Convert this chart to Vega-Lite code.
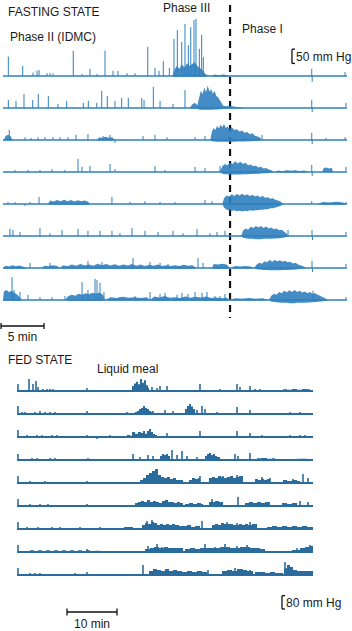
{
"$schema":"https://vega.github.io/schema/vega-lite/v6.json",
"padding":0,
"background":"white",
"spacing":1,
"config":{"view":{"stroke":null},"font":"Liberation Sans"},
"datasets":{
"fast":[
{"k":"inv","r":1,"t":0,"t2":1,"p":266,"p2":266},
{"k":"inv","r":8,"t":0,"t2":1,"p":-175,"p2":-175},
{"k":"base","r":1,"t":0,"t2":40},{"k":"base","r":2,"t":0,"t2":40},{"k":"base","r":3,"t":0,"t2":40},{"k":"base","r":4,"t":0,"t2":40},{"k":"base","r":5,"t":0,"t2":40},{"k":"base","r":6,"t":0,"t2":40},{"k":"base","r":7,"t":0,"t2":40},{"k":"base","r":8,"t":0,"t2":40},
{"k":"txt","r":1,"t":0.58,"p":224,"label":"FASTING STATE"},
{"k":"txt","r":1,"t":0.81,"p":136.5,"label":"Phase II (IDMC)"},
{"k":"txt","r":1,"t":18.6,"p":238,"label":"Phase III"},
{"k":"txt","r":1,"t":27.8,"p":164.5,"label":"Phase I"},
{"k":"txt","r":1,"t":34.07,"p":66.5,"label":"50 mm Hg"},
{"k":"txtc","r":8,"t":2.27,"p":-131,"label":"5 min"},
{"k":"bar","r":1,"t":33.6,"t2":33.6,"p":44,"p2":94},
{"k":"bar","r":1,"t":33.6,"t2":33.95,"p":94,"p2":94},
{"k":"bar","r":1,"t":33.6,"t2":33.95,"p":44,"p2":44},
{"k":"bar","r":8,"t":-0.23,"t2":4.77,"p":-91,"p2":-91},
{"k":"bar","r":8,"t":-0.23,"t2":-0.23,"p":-80.5,"p2":-101.5},
{"k":"bar","r":8,"t":4.77,"t2":4.77,"p":-80.5,"p2":-101.5},
{"k":"dash","r":1,"t":26.4,"p":248.5,"p2":-847},
{"k":"s","r":1,"t":0.62,"p":68},{"k":"s","r":1,"t":2.29,"p":35},{"k":"s","r":1,"t":3.49,"p":12},{"k":"s","r":1,"t":3.95,"p":18},{"k":"s","r":1,"t":4.19,"p":21},{"k":"s","r":1,"t":5.12,"p":10},{"k":"s","r":1,"t":5.47,"p":10},{"k":"s","r":1,"t":5.81,"p":9},{"k":"s","r":1,"t":8.17,"p":88},{"k":"s","r":1,"t":9.19,"p":7},{"k":"s","r":1,"t":10.12,"p":25},{"k":"s","r":1,"t":10.93,"p":7},{"k":"s","r":1,"t":11.86,"p":88},{"k":"s","r":1,"t":12.79,"p":18},{"k":"s","r":1,"t":13.37,"p":18},{"k":"s","r":1,"t":14.42,"p":10},{"k":"s","r":1,"t":15.35,"p":10},{"k":"s","r":1,"t":16.83,"p":102},{"k":"s","r":1,"t":17.67,"p":28},{"k":"s","r":1,"t":18.14,"p":18},{"k":"s","r":1,"t":18.64,"p":52},{"k":"s","r":1,"t":19.34,"p":28},{"k":"s","r":1,"t":19.88,"p":130},{"k":"s","r":1,"t":20.27,"p":161},{"k":"s","r":1,"t":20.78,"p":119},{"k":"s","r":1,"t":21.16,"p":182},{"k":"s","r":1,"t":21.55,"p":108},{"k":"s","r":1,"t":21.83,"p":171},{"k":"s","r":1,"t":22.21,"p":196},{"k":"s","r":1,"t":22.44,"p":200},{"k":"s","r":1,"t":22.83,"p":95},{"k":"s","r":1,"t":23.1,"p":144},{"k":"s","r":1,"t":23.29,"p":66},{"k":"s","r":1,"t":35.9,"p":25},{"k":"s","r":1,"t":35.95,"p":-20},{"k":"s","r":1,"t":39.77,"p":14},
{"k":"s","r":2,"t":0.62,"p":28},{"k":"s","r":2,"t":1.51,"p":25},{"k":"s","r":2,"t":2.44,"p":49},{"k":"s","r":2,"t":3.45,"p":28},{"k":"s","r":2,"t":4.1,"p":49},{"k":"s","r":2,"t":5.27,"p":42},{"k":"s","r":2,"t":6.4,"p":14},{"k":"s","r":2,"t":7.41,"p":25},{"k":"s","r":2,"t":9.34,"p":18},{"k":"s","r":2,"t":9.92,"p":25},{"k":"s","r":2,"t":10.9,"p":18},{"k":"s","r":2,"t":11.48,"p":60},{"k":"s","r":2,"t":12.13,"p":42},{"k":"s","r":2,"t":13.02,"p":25},{"k":"s","r":2,"t":13.8,"p":35},{"k":"s","r":2,"t":14.57,"p":35},{"k":"s","r":2,"t":16.13,"p":35},{"k":"s","r":2,"t":16.4,"p":28},{"k":"s","r":2,"t":17.48,"p":74},{"k":"s","r":2,"t":18.26,"p":25},{"k":"s","r":2,"t":19.77,"p":14},{"k":"s","r":2,"t":21.16,"p":63},{"k":"s","r":2,"t":35.9,"p":28},{"k":"s","r":2,"t":35.95,"p":-14},{"k":"s","r":2,"t":39.88,"p":18},
{"k":"s","r":3,"t":0.73,"p":35},{"k":"s","r":3,"t":2.56,"p":10},{"k":"s","r":3,"t":3.26,"p":7},{"k":"s","r":3,"t":4.07,"p":10},{"k":"s","r":3,"t":4.88,"p":10},{"k":"s","r":3,"t":5.81,"p":10},{"k":"s","r":3,"t":6.63,"p":10},{"k":"s","r":3,"t":7.56,"p":10},{"k":"s","r":3,"t":8.49,"p":18},{"k":"s","r":3,"t":9.88,"p":21},{"k":"s","r":3,"t":11.63,"p":14},{"k":"s","r":3,"t":12.44,"p":18},{"k":"s","r":3,"t":13.02,"p":-10},{"k":"s","r":3,"t":16.28,"p":14},{"k":"s","r":3,"t":17.67,"p":18},{"k":"s","r":3,"t":19.07,"p":10},{"k":"s","r":3,"t":22.33,"p":10},{"k":"s","r":3,"t":23.49,"p":14},{"k":"s","r":3,"t":30.12,"p":18},{"k":"s","r":3,"t":35.9,"p":25},{"k":"s","r":3,"t":35.95,"p":-14},{"k":"s","r":3,"t":37.56,"p":7},{"k":"s","r":3,"t":39.77,"p":10},
{"k":"s","r":4,"t":1.4,"p":7},{"k":"s","r":4,"t":2.9,"p":7},{"k":"s","r":4,"t":4.3,"p":7},{"k":"s","r":4,"t":5.7,"p":10},{"k":"s","r":4,"t":7.2,"p":7},{"k":"s","r":4,"t":8.72,"p":46},{"k":"s","r":4,"t":9.19,"p":18},{"k":"s","r":4,"t":10.12,"p":21},{"k":"s","r":4,"t":12.44,"p":28},{"k":"s","r":4,"t":13.02,"p":10},{"k":"s","r":4,"t":17.67,"p":21},{"k":"s","r":4,"t":18.84,"p":7},{"k":"s","r":4,"t":22.33,"p":18},{"k":"s","r":4,"t":23.49,"p":14},{"k":"s","r":4,"t":25.23,"p":21},{"k":"s","r":4,"t":35.9,"p":25},{"k":"s","r":4,"t":35.95,"p":-14},{"k":"s","r":4,"t":39.88,"p":18},
{"k":"s","r":5,"t":0.58,"p":7},{"k":"s","r":5,"t":1.4,"p":7},{"k":"s","r":5,"t":2.56,"p":-7},{"k":"s","r":5,"t":3.14,"p":7},{"k":"s","r":5,"t":4.19,"p":25},{"k":"s","r":5,"t":12.67,"p":25},{"k":"s","r":5,"t":14.77,"p":7},{"k":"s","r":5,"t":16.5,"p":10},{"k":"s","r":5,"t":18.26,"p":7},{"k":"s","r":5,"t":20.0,"p":7},{"k":"s","r":5,"t":23.49,"p":14},{"k":"s","r":5,"t":24.3,"p":10},{"k":"s","r":5,"t":35.9,"p":10},{"k":"s","r":5,"t":39.88,"p":7},
{"k":"s","r":6,"t":0.81,"p":25},{"k":"s","r":6,"t":1.16,"p":21},{"k":"s","r":6,"t":1.98,"p":14},{"k":"s","r":6,"t":4.3,"p":28},{"k":"s","r":6,"t":5.47,"p":10},{"k":"s","r":6,"t":6.86,"p":21},{"k":"s","r":6,"t":8.72,"p":25},{"k":"s","r":6,"t":9.88,"p":18},{"k":"s","r":6,"t":11.28,"p":18},{"k":"s","r":6,"t":12.67,"p":18},{"k":"s","r":6,"t":13.6,"p":10},{"k":"s","r":6,"t":15.0,"p":28},{"k":"s","r":6,"t":16.51,"p":18},{"k":"s","r":6,"t":18.02,"p":14},{"k":"s","r":6,"t":19.77,"p":18},{"k":"s","r":6,"t":20.93,"p":10},{"k":"s","r":6,"t":22.56,"p":25},{"k":"s","r":6,"t":24.07,"p":10},{"k":"s","r":6,"t":24.88,"p":14},{"k":"s","r":6,"t":25.81,"p":18},{"k":"s","r":6,"t":33.14,"p":21},{"k":"s","r":6,"t":35.93,"p":21},{"k":"s","r":6,"t":35.98,"p":-14},{"k":"s","r":6,"t":39.88,"p":14},
{"k":"s","r":7,"t":3.14,"p":18},{"k":"s","r":7,"t":5.47,"p":18},{"k":"s","r":7,"t":9.88,"p":25},{"k":"s","r":7,"t":11.51,"p":21},{"k":"s","r":7,"t":15.12,"p":35},{"k":"s","r":7,"t":17.09,"p":21},{"k":"s","r":7,"t":18.26,"p":18},{"k":"s","r":7,"t":19.19,"p":14},{"k":"s","r":7,"t":22.67,"p":35},{"k":"s","r":7,"t":23.26,"p":18},{"k":"s","r":7,"t":35.93,"p":25},{"k":"s","r":7,"t":35.98,"p":-14},{"k":"s","r":7,"t":39.88,"p":14},
{"k":"s","r":8,"t":1.05,"p":80},{"k":"s","r":8,"t":1.28,"p":35},{"k":"s","r":8,"t":1.98,"p":28},{"k":"s","r":8,"t":2.91,"p":18},{"k":"s","r":8,"t":4.3,"p":10},{"k":"s","r":8,"t":5.7,"p":10},{"k":"s","r":8,"t":7.21,"p":14},{"k":"s","r":8,"t":9.19,"p":63},{"k":"s","r":8,"t":9.88,"p":35},{"k":"s","r":8,"t":10.7,"p":74},{"k":"s","r":8,"t":10.93,"p":70},{"k":"s","r":8,"t":11.28,"p":60},{"k":"s","r":8,"t":11.74,"p":28},{"k":"s","r":8,"t":13.6,"p":10},{"k":"s","r":8,"t":15.35,"p":14},{"k":"s","r":8,"t":17.09,"p":28},{"k":"s","r":8,"t":18.26,"p":21},{"k":"s","r":8,"t":18.84,"p":25},{"k":"s","r":8,"t":20.23,"p":18},{"k":"s","r":8,"t":20.81,"p":25},{"k":"s","r":8,"t":21.51,"p":21},{"k":"s","r":8,"t":22.33,"p":28},{"k":"s","r":8,"t":23.14,"p":25},{"k":"s","r":8,"t":23.72,"p":28},{"k":"s","r":8,"t":24.65,"p":14},{"k":"s","r":8,"t":25.23,"p":14},{"k":"s","r":8,"t":25.81,"p":21},{"k":"s","r":8,"t":36.05,"p":32},{"k":"s","r":8,"t":39.88,"p":10},
{"k":"a","r":1,"b":1,"t":19.7,"p":0,"lo":0},{"k":"a","r":1,"b":1,"t":19.9,"p":20,"lo":-3},{"k":"a","r":1,"b":1,"t":20.2,"p":35,"lo":-3},{"k":"a","r":1,"b":1,"t":20.5,"p":25,"lo":-3},{"k":"a","r":1,"b":1,"t":20.8,"p":40,"lo":-3},{"k":"a","r":1,"b":1,"t":21.1,"p":30,"lo":-3},{"k":"a","r":1,"b":1,"t":21.4,"p":45,"lo":-3},{"k":"a","r":1,"b":1,"t":21.7,"p":35,"lo":-3},{"k":"a","r":1,"b":1,"t":22.0,"p":42,"lo":-3},{"k":"a","r":1,"b":1,"t":22.3,"p":48,"lo":-3},{"k":"a","r":1,"b":1,"t":22.6,"p":35,"lo":-3},{"k":"a","r":1,"b":1,"t":22.9,"p":28,"lo":-3},{"k":"a","r":1,"b":1,"t":23.2,"p":20,"lo":-3},{"k":"a","r":1,"b":1,"t":23.5,"p":8,"lo":-3},{"k":"a","r":1,"b":1,"t":23.8,"p":2,"lo":0},{"k":"a","r":1,"b":1,"t":24.2,"p":0,"lo":0},
{"k":"a","r":1,"b":2,"t":24.2,"p":0,"lo":0},{"k":"a","r":1,"b":2,"t":24.6,"p":5,"lo":-3},{"k":"a","r":1,"b":2,"t":25.1,"p":3,"lo":-2},{"k":"a","r":1,"b":2,"t":25.6,"p":5,"lo":-3},{"k":"a","r":1,"b":2,"t":26.1,"p":3,"lo":-2},{"k":"a","r":1,"b":2,"t":26.6,"p":0,"lo":0},
{"k":"a","r":2,"b":1,"t":21.7,"p":0,"lo":0},{"k":"a","r":2,"b":1,"t":22.0,"p":12,"lo":-2},{"k":"a","r":2,"b":1,"t":22.3,"p":18,"lo":-2},{"k":"a","r":2,"b":1,"t":22.6,"p":10,"lo":-3},{"k":"a","r":2,"b":1,"t":22.8,"p":35,"lo":-5},{"k":"a","r":2,"b":1,"t":23.0,"p":60,"lo":-6},{"k":"a","r":2,"b":1,"t":23.2,"p":48,"lo":-6},{"k":"a","r":2,"b":1,"t":23.4,"p":72,"lo":-6},{"k":"a","r":2,"b":1,"t":23.6,"p":55,"lo":-6},{"k":"a","r":2,"b":1,"t":23.8,"p":78,"lo":-6},{"k":"a","r":2,"b":1,"t":24.0,"p":58,"lo":-6},{"k":"a","r":2,"b":1,"t":24.2,"p":66,"lo":-6},{"k":"a","r":2,"b":1,"t":24.4,"p":50,"lo":-6},{"k":"a","r":2,"b":1,"t":24.6,"p":60,"lo":-5},{"k":"a","r":2,"b":1,"t":24.8,"p":42,"lo":-5},{"k":"a","r":2,"b":1,"t":25.0,"p":38,"lo":-5},{"k":"a","r":2,"b":1,"t":25.2,"p":28,"lo":-4},{"k":"a","r":2,"b":1,"t":25.4,"p":18,"lo":-4},{"k":"a","r":2,"b":1,"t":25.6,"p":8,"lo":-3},{"k":"a","r":2,"b":1,"t":26.0,"p":6,"lo":-3},{"k":"a","r":2,"b":1,"t":26.5,"p":7,"lo":-2},{"k":"a","r":2,"b":1,"t":27.0,"p":4,"lo":-2},{"k":"a","r":2,"b":1,"t":27.5,"p":3,"lo":-2},{"k":"a","r":2,"b":1,"t":28.0,"p":0,"lo":0},
{"k":"a","r":3,"b":1,"t":0.1,"p":0,"lo":0},{"k":"a","r":3,"b":1,"t":0.3,"p":14,"lo":-2},{"k":"a","r":3,"b":1,"t":0.6,"p":18,"lo":-2},{"k":"a","r":3,"b":1,"t":0.9,"p":12,"lo":-2},{"k":"a","r":3,"b":1,"t":1.1,"p":0,"lo":0},
{"k":"a","r":3,"b":2,"t":10.9,"p":0,"lo":0},{"k":"a","r":3,"b":2,"t":11.2,"p":10,"lo":-2},{"k":"a","r":3,"b":2,"t":11.5,"p":7,"lo":-2},{"k":"a","r":3,"b":2,"t":11.9,"p":11,"lo":-2},{"k":"a","r":3,"b":2,"t":12.3,"p":8,"lo":-2},{"k":"a","r":3,"b":2,"t":12.7,"p":10,"lo":-2},{"k":"a","r":3,"b":2,"t":13.0,"p":0,"lo":0},
{"k":"a","r":3,"b":3,"t":24.1,"p":0,"lo":0},{"k":"a","r":3,"b":3,"t":24.3,"p":30,"lo":-4},{"k":"a","r":3,"b":3,"t":24.5,"p":42,"lo":-5},{"k":"a","r":3,"b":3,"t":24.7,"p":35,"lo":-5},{"k":"a","r":3,"b":3,"t":24.9,"p":50,"lo":-6},{"k":"a","r":3,"b":3,"t":25.1,"p":40,"lo":-6},{"k":"a","r":3,"b":3,"t":25.3,"p":53,"lo":-6},{"k":"a","r":3,"b":3,"t":25.5,"p":45,"lo":-6},{"k":"a","r":3,"b":3,"t":25.7,"p":56,"lo":-6},{"k":"a","r":3,"b":3,"t":25.9,"p":42,"lo":-6},{"k":"a","r":3,"b":3,"t":26.1,"p":48,"lo":-6},{"k":"a","r":3,"b":3,"t":26.3,"p":38,"lo":-6},{"k":"a","r":3,"b":3,"t":26.6,"p":45,"lo":-6},{"k":"a","r":3,"b":3,"t":26.9,"p":35,"lo":-6},{"k":"a","r":3,"b":3,"t":27.2,"p":38,"lo":-5},{"k":"a","r":3,"b":3,"t":27.5,"p":30,"lo":-5},{"k":"a","r":3,"b":3,"t":27.8,"p":33,"lo":-5},{"k":"a","r":3,"b":3,"t":28.1,"p":25,"lo":-5},{"k":"a","r":3,"b":3,"t":28.4,"p":28,"lo":-4},{"k":"a","r":3,"b":3,"t":28.7,"p":20,"lo":-4},{"k":"a","r":3,"b":3,"t":29.0,"p":24,"lo":-4},{"k":"a","r":3,"b":3,"t":29.3,"p":15,"lo":-3},{"k":"a","r":3,"b":3,"t":29.6,"p":12,"lo":-3},{"k":"a","r":3,"b":3,"t":29.9,"p":8,"lo":-2},{"k":"a","r":3,"b":3,"t":30.1,"p":0,"lo":0},
{"k":"a","r":4,"b":1,"t":25.2,"p":0,"lo":0},{"k":"a","r":4,"b":1,"t":25.5,"p":20,"lo":-6},{"k":"a","r":4,"b":1,"t":25.8,"p":28,"lo":-8},{"k":"a","r":4,"b":1,"t":26.1,"p":24,"lo":-8},{"k":"a","r":4,"b":1,"t":26.4,"p":32,"lo":-9},{"k":"a","r":4,"b":1,"t":26.7,"p":28,"lo":-9},{"k":"a","r":4,"b":1,"t":27.0,"p":38,"lo":-9},{"k":"a","r":4,"b":1,"t":27.3,"p":30,"lo":-9},{"k":"a","r":4,"b":1,"t":27.6,"p":36,"lo":-9},{"k":"a","r":4,"b":1,"t":27.9,"p":28,"lo":-8},{"k":"a","r":4,"b":1,"t":28.2,"p":32,"lo":-8},{"k":"a","r":4,"b":1,"t":28.5,"p":24,"lo":-8},{"k":"a","r":4,"b":1,"t":28.8,"p":26,"lo":-7},{"k":"a","r":4,"b":1,"t":29.1,"p":20,"lo":-7},{"k":"a","r":4,"b":1,"t":29.4,"p":22,"lo":-6},{"k":"a","r":4,"b":1,"t":29.7,"p":16,"lo":-6},{"k":"a","r":4,"b":1,"t":30.0,"p":18,"lo":-5},{"k":"a","r":4,"b":1,"t":30.3,"p":12,"lo":-4},{"k":"a","r":4,"b":1,"t":30.6,"p":14,"lo":-4},{"k":"a","r":4,"b":1,"t":30.9,"p":9,"lo":-3},{"k":"a","r":4,"b":1,"t":31.2,"p":6,"lo":-2},{"k":"a","r":4,"b":1,"t":31.5,"p":0,"lo":0},
{"k":"a","r":4,"b":2,"t":31.6,"p":0,"lo":0},{"k":"a","r":4,"b":2,"t":32.0,"p":5,"lo":-2},{"k":"a","r":4,"b":2,"t":32.5,"p":3,"lo":-2},{"k":"a","r":4,"b":2,"t":33.0,"p":6,"lo":-2},{"k":"a","r":4,"b":2,"t":33.5,"p":4,"lo":-2},{"k":"a","r":4,"b":2,"t":34.0,"p":6,"lo":-2},{"k":"a","r":4,"b":2,"t":34.5,"p":3,"lo":-2},{"k":"a","r":4,"b":2,"t":35.0,"p":5,"lo":-2},{"k":"a","r":4,"b":2,"t":35.5,"p":0,"lo":0},
{"k":"a","r":4,"b":3,"t":37.1,"p":0,"lo":0},{"k":"a","r":4,"b":3,"t":37.3,"p":14,"lo":-1},{"k":"a","r":4,"b":3,"t":37.6,"p":16,"lo":-1},{"k":"a","r":4,"b":3,"t":37.9,"p":12,"lo":-1},{"k":"a","r":4,"b":3,"t":38.2,"p":15,"lo":-1},{"k":"a","r":4,"b":3,"t":38.4,"p":0,"lo":0},
{"k":"a","r":5,"b":1,"t":5.2,"p":0,"lo":0},{"k":"a","r":5,"b":1,"t":5.5,"p":12,"lo":-3},{"k":"a","r":5,"b":1,"t":5.9,"p":9,"lo":-3},{"k":"a","r":5,"b":1,"t":6.3,"p":14,"lo":-3},{"k":"a","r":5,"b":1,"t":6.7,"p":10,"lo":-3},{"k":"a","r":5,"b":1,"t":7.1,"p":15,"lo":-3},{"k":"a","r":5,"b":1,"t":7.5,"p":10,"lo":-3},{"k":"a","r":5,"b":1,"t":7.9,"p":14,"lo":-3},{"k":"a","r":5,"b":1,"t":8.3,"p":9,"lo":-3},{"k":"a","r":5,"b":1,"t":8.7,"p":13,"lo":-3},{"k":"a","r":5,"b":1,"t":9.1,"p":10,"lo":-3},{"k":"a","r":5,"b":1,"t":9.5,"p":12,"lo":-3},{"k":"a","r":5,"b":1,"t":9.9,"p":8,"lo":-3},{"k":"a","r":5,"b":1,"t":10.1,"p":0,"lo":0},
{"k":"a","r":5,"b":2,"t":25.5,"p":0,"lo":0},{"k":"a","r":5,"b":2,"t":25.7,"p":20,"lo":-12},{"k":"a","r":5,"b":2,"t":26.0,"p":30,"lo":-20},{"k":"a","r":5,"b":2,"t":26.3,"p":26,"lo":-22},{"k":"a","r":5,"b":2,"t":26.6,"p":34,"lo":-24},{"k":"a","r":5,"b":2,"t":26.9,"p":28,"lo":-22},{"k":"a","r":5,"b":2,"t":27.2,"p":35,"lo":-25},{"k":"a","r":5,"b":2,"t":27.5,"p":30,"lo":-24},{"k":"a","r":5,"b":2,"t":27.8,"p":36,"lo":-26},{"k":"a","r":5,"b":2,"t":28.1,"p":30,"lo":-24},{"k":"a","r":5,"b":2,"t":28.4,"p":34,"lo":-25},{"k":"a","r":5,"b":2,"t":28.7,"p":28,"lo":-22},{"k":"a","r":5,"b":2,"t":29.0,"p":32,"lo":-24},{"k":"a","r":5,"b":2,"t":29.3,"p":26,"lo":-22},{"k":"a","r":5,"b":2,"t":29.6,"p":30,"lo":-22},{"k":"a","r":5,"b":2,"t":29.9,"p":24,"lo":-20},{"k":"a","r":5,"b":2,"t":30.2,"p":28,"lo":-20},{"k":"a","r":5,"b":2,"t":30.5,"p":22,"lo":-18},{"k":"a","r":5,"b":2,"t":30.8,"p":24,"lo":-18},{"k":"a","r":5,"b":2,"t":31.1,"p":18,"lo":-15},{"k":"a","r":5,"b":2,"t":31.4,"p":20,"lo":-15},{"k":"a","r":5,"b":2,"t":31.7,"p":14,"lo":-12},{"k":"a","r":5,"b":2,"t":32.0,"p":12,"lo":-10},{"k":"a","r":5,"b":2,"t":32.3,"p":8,"lo":-6},{"k":"a","r":5,"b":2,"t":32.6,"p":0,"lo":0},
{"k":"a","r":5,"b":3,"t":36.6,"p":0,"lo":0},{"k":"a","r":5,"b":3,"t":37.2,"p":7,"lo":-3},{"k":"a","r":5,"b":3,"t":38.0,"p":5,"lo":-3},{"k":"a","r":5,"b":3,"t":38.8,"p":8,"lo":-3},{"k":"a","r":5,"b":3,"t":39.5,"p":5,"lo":-3},{"k":"a","r":5,"b":3,"t":40.0,"p":0,"lo":0},
{"k":"a","r":6,"b":1,"t":27.7,"p":0,"lo":0},{"k":"a","r":6,"b":1,"t":27.9,"p":18,"lo":-6},{"k":"a","r":6,"b":1,"t":28.2,"p":26,"lo":-8},{"k":"a","r":6,"b":1,"t":28.5,"p":22,"lo":-10},{"k":"a","r":6,"b":1,"t":28.8,"p":32,"lo":-10},{"k":"a","r":6,"b":1,"t":29.1,"p":28,"lo":-10},{"k":"a","r":6,"b":1,"t":29.4,"p":35,"lo":-11},{"k":"a","r":6,"b":1,"t":29.7,"p":30,"lo":-11},{"k":"a","r":6,"b":1,"t":30.0,"p":35,"lo":-11},{"k":"a","r":6,"b":1,"t":30.3,"p":28,"lo":-10},{"k":"a","r":6,"b":1,"t":30.6,"p":33,"lo":-10},{"k":"a","r":6,"b":1,"t":30.9,"p":26,"lo":-10},{"k":"a","r":6,"b":1,"t":31.2,"p":30,"lo":-10},{"k":"a","r":6,"b":1,"t":31.5,"p":24,"lo":-9},{"k":"a","r":6,"b":1,"t":31.8,"p":26,"lo":-9},{"k":"a","r":6,"b":1,"t":32.1,"p":20,"lo":-8},{"k":"a","r":6,"b":1,"t":32.4,"p":22,"lo":-7},{"k":"a","r":6,"b":1,"t":32.7,"p":15,"lo":-5},{"k":"a","r":6,"b":1,"t":33.0,"p":8,"lo":-3},{"k":"a","r":6,"b":1,"t":33.2,"p":0,"lo":0},
{"k":"a","r":7,"b":1,"t":0,"p":0,"lo":0},{"k":"a","r":7,"b":1,"t":0.3,"p":8,"lo":-3},{"k":"a","r":7,"b":1,"t":0.7,"p":5,"lo":-3},{"k":"a","r":7,"b":1,"t":1.1,"p":10,"lo":-3},{"k":"a","r":7,"b":1,"t":1.5,"p":6,"lo":-3},{"k":"a","r":7,"b":1,"t":1.9,"p":9,"lo":-3},{"k":"a","r":7,"b":1,"t":2.3,"p":5,"lo":-3},{"k":"a","r":7,"b":1,"t":2.8,"p":0,"lo":0},
{"k":"a","r":7,"b":2,"t":4.5,"p":0,"lo":0},{"k":"a","r":7,"b":2,"t":4.8,"p":8,"lo":-2},{"k":"a","r":7,"b":2,"t":5.3,"p":6,"lo":-2},{"k":"a","r":7,"b":2,"t":5.8,"p":10,"lo":-2},{"k":"a","r":7,"b":2,"t":6.3,"p":7,"lo":-2},{"k":"a","r":7,"b":2,"t":6.6,"p":0,"lo":0},
{"k":"a","r":7,"b":3,"t":6.6,"p":0,"lo":0},{"k":"a","r":7,"b":3,"t":7.0,"p":10,"lo":-3},{"k":"a","r":7,"b":3,"t":7.5,"p":6,"lo":-3},{"k":"a","r":7,"b":3,"t":8.0,"p":12,"lo":-3},{"k":"a","r":7,"b":3,"t":8.5,"p":8,"lo":-3},{"k":"a","r":7,"b":3,"t":9.0,"p":14,"lo":-3},{"k":"a","r":7,"b":3,"t":9.5,"p":9,"lo":-3},{"k":"a","r":7,"b":3,"t":10.0,"p":12,"lo":-3},{"k":"a","r":7,"b":3,"t":10.5,"p":8,"lo":-3},{"k":"a","r":7,"b":3,"t":11.0,"p":15,"lo":-3},{"k":"a","r":7,"b":3,"t":11.5,"p":10,"lo":-3},{"k":"a","r":7,"b":3,"t":12.0,"p":14,"lo":-3},{"k":"a","r":7,"b":3,"t":12.5,"p":9,"lo":-3},{"k":"a","r":7,"b":3,"t":13.0,"p":13,"lo":-3},{"k":"a","r":7,"b":3,"t":13.5,"p":8,"lo":-3},{"k":"a","r":7,"b":3,"t":14.0,"p":12,"lo":-3},{"k":"a","r":7,"b":3,"t":14.5,"p":9,"lo":-3},{"k":"a","r":7,"b":3,"t":15.0,"p":14,"lo":-3},{"k":"a","r":7,"b":3,"t":15.5,"p":8,"lo":-3},{"k":"a","r":7,"b":3,"t":16.0,"p":12,"lo":-3},{"k":"a","r":7,"b":3,"t":16.5,"p":7,"lo":-3},{"k":"a","r":7,"b":3,"t":17.0,"p":11,"lo":-3},{"k":"a","r":7,"b":3,"t":17.5,"p":8,"lo":-3},{"k":"a","r":7,"b":3,"t":18.0,"p":12,"lo":-3},{"k":"a","r":7,"b":3,"t":18.5,"p":7,"lo":-3},{"k":"a","r":7,"b":3,"t":19.0,"p":10,"lo":-3},{"k":"a","r":7,"b":3,"t":19.5,"p":7,"lo":-3},{"k":"a","r":7,"b":3,"t":20.0,"p":10,"lo":-3},{"k":"a","r":7,"b":3,"t":20.5,"p":7,"lo":-3},{"k":"a","r":7,"b":3,"t":21.0,"p":11,"lo":-3},{"k":"a","r":7,"b":3,"t":21.5,"p":8,"lo":-3},{"k":"a","r":7,"b":3,"t":22.0,"p":10,"lo":-3},{"k":"a","r":7,"b":3,"t":22.5,"p":0,"lo":0},
{"k":"a","r":7,"b":4,"t":24.3,"p":0,"lo":0},{"k":"a","r":7,"b":4,"t":24.5,"p":14,"lo":-3},{"k":"a","r":7,"b":4,"t":25.0,"p":12,"lo":-3},{"k":"a","r":7,"b":4,"t":25.5,"p":15,"lo":-3},{"k":"a","r":7,"b":4,"t":26.0,"p":12,"lo":-3},{"k":"a","r":7,"b":4,"t":26.4,"p":0,"lo":0},
{"k":"a","r":7,"b":5,"t":26.4,"p":0,"lo":0},{"k":"a","r":7,"b":5,"t":27.0,"p":7,"lo":-2},{"k":"a","r":7,"b":5,"t":27.6,"p":5,"lo":-2},{"k":"a","r":7,"b":5,"t":28.2,"p":7,"lo":-2},{"k":"a","r":7,"b":5,"t":28.8,"p":5,"lo":-2},{"k":"a","r":7,"b":5,"t":29.1,"p":0,"lo":0},
{"k":"a","r":7,"b":6,"t":29.2,"p":0,"lo":0},{"k":"a","r":7,"b":6,"t":29.5,"p":12,"lo":-4},{"k":"a","r":7,"b":6,"t":29.8,"p":18,"lo":-5},{"k":"a","r":7,"b":6,"t":30.1,"p":15,"lo":-6},{"k":"a","r":7,"b":6,"t":30.4,"p":24,"lo":-7},{"k":"a","r":7,"b":6,"t":30.7,"p":20,"lo":-7},{"k":"a","r":7,"b":6,"t":31.0,"p":28,"lo":-8},{"k":"a","r":7,"b":6,"t":31.3,"p":22,"lo":-8},{"k":"a","r":7,"b":6,"t":31.6,"p":28,"lo":-8},{"k":"a","r":7,"b":6,"t":31.9,"p":24,"lo":-8},{"k":"a","r":7,"b":6,"t":32.2,"p":27,"lo":-8},{"k":"a","r":7,"b":6,"t":32.5,"p":22,"lo":-7},{"k":"a","r":7,"b":6,"t":32.8,"p":25,"lo":-7},{"k":"a","r":7,"b":6,"t":33.1,"p":20,"lo":-7},{"k":"a","r":7,"b":6,"t":33.4,"p":22,"lo":-6},{"k":"a","r":7,"b":6,"t":33.7,"p":16,"lo":-6},{"k":"a","r":7,"b":6,"t":34.0,"p":18,"lo":-5},{"k":"a","r":7,"b":6,"t":34.3,"p":12,"lo":-4},{"k":"a","r":7,"b":6,"t":34.6,"p":10,"lo":-3},{"k":"a","r":7,"b":6,"t":34.9,"p":6,"lo":-2},{"k":"a","r":7,"b":6,"t":35.3,"p":0,"lo":0},
{"k":"a","r":8,"b":1,"t":0,"p":0,"lo":0},{"k":"a","r":8,"b":1,"t":0.1,"p":30,"lo":-3},{"k":"a","r":8,"b":1,"t":0.4,"p":35,"lo":-3},{"k":"a","r":8,"b":1,"t":0.7,"p":28,"lo":-3},{"k":"a","r":8,"b":1,"t":1.0,"p":32,"lo":-3},{"k":"a","r":8,"b":1,"t":1.3,"p":25,"lo":-3},{"k":"a","r":8,"b":1,"t":1.6,"p":20,"lo":-3},{"k":"a","r":8,"b":1,"t":2.0,"p":8,"lo":-3},{"k":"a","r":8,"b":1,"t":2.2,"p":0,"lo":0},
{"k":"a","r":8,"b":2,"t":7.2,"p":0,"lo":0},{"k":"a","r":8,"b":2,"t":7.6,"p":14,"lo":-3},{"k":"a","r":8,"b":2,"t":8.0,"p":18,"lo":-3},{"k":"a","r":8,"b":2,"t":8.4,"p":15,"lo":-3},{"k":"a","r":8,"b":2,"t":8.8,"p":22,"lo":-3},{"k":"a","r":8,"b":2,"t":9.2,"p":18,"lo":-3},{"k":"a","r":8,"b":2,"t":9.6,"p":24,"lo":-3},{"k":"a","r":8,"b":2,"t":10.0,"p":20,"lo":-3},{"k":"a","r":8,"b":2,"t":10.4,"p":25,"lo":-3},{"k":"a","r":8,"b":2,"t":10.8,"p":22,"lo":-3},{"k":"a","r":8,"b":2,"t":11.2,"p":26,"lo":-3},{"k":"a","r":8,"b":2,"t":11.6,"p":18,"lo":-3},{"k":"a","r":8,"b":2,"t":11.9,"p":0,"lo":0},
{"k":"a","r":8,"b":3,"t":11.9,"p":0,"lo":0},{"k":"a","r":8,"b":3,"t":12.5,"p":10,"lo":-2},{"k":"a","r":8,"b":3,"t":13.2,"p":7,"lo":-2},{"k":"a","r":8,"b":3,"t":13.9,"p":11,"lo":-2},{"k":"a","r":8,"b":3,"t":14.6,"p":8,"lo":-2},{"k":"a","r":8,"b":3,"t":15.3,"p":10,"lo":-2},{"k":"a","r":8,"b":3,"t":16.0,"p":7,"lo":-2},{"k":"a","r":8,"b":3,"t":16.7,"p":10,"lo":-2},{"k":"a","r":8,"b":3,"t":17.1,"p":0,"lo":0},
{"k":"a","r":8,"b":4,"t":17.1,"p":0,"lo":0},{"k":"a","r":8,"b":4,"t":17.6,"p":12,"lo":-3},{"k":"a","r":8,"b":4,"t":18.2,"p":9,"lo":-3},{"k":"a","r":8,"b":4,"t":18.8,"p":14,"lo":-3},{"k":"a","r":8,"b":4,"t":19.4,"p":8,"lo":-3},{"k":"a","r":8,"b":4,"t":20.0,"p":10,"lo":-3},{"k":"a","r":8,"b":4,"t":20.6,"p":7,"lo":-3},{"k":"a","r":8,"b":4,"t":21.2,"p":12,"lo":-3},{"k":"a","r":8,"b":4,"t":21.8,"p":8,"lo":-3},{"k":"a","r":8,"b":4,"t":22.4,"p":11,"lo":-3},{"k":"a","r":8,"b":4,"t":23.0,"p":9,"lo":-3},{"k":"a","r":8,"b":4,"t":23.6,"p":12,"lo":-3},{"k":"a","r":8,"b":4,"t":24.2,"p":7,"lo":-3},{"k":"a","r":8,"b":4,"t":24.8,"p":9,"lo":-3},{"k":"a","r":8,"b":4,"t":25.4,"p":6,"lo":-3},{"k":"a","r":8,"b":4,"t":26.0,"p":8,"lo":-3},{"k":"a","r":8,"b":4,"t":26.4,"p":0,"lo":0},
{"k":"a","r":8,"b":5,"t":26.4,"p":0,"lo":0},{"k":"a","r":8,"b":5,"t":27.0,"p":6,"lo":-2},{"k":"a","r":8,"b":5,"t":27.8,"p":4,"lo":-2},{"k":"a","r":8,"b":5,"t":28.6,"p":7,"lo":-2},{"k":"a","r":8,"b":5,"t":29.4,"p":4,"lo":-2},{"k":"a","r":8,"b":5,"t":30.2,"p":6,"lo":-2},{"k":"a","r":8,"b":5,"t":30.8,"p":0,"lo":0},
{"k":"a","r":8,"b":6,"t":30.9,"p":0,"lo":0},{"k":"a","r":8,"b":6,"t":31.2,"p":15,"lo":-5},{"k":"a","r":8,"b":6,"t":31.5,"p":22,"lo":-7},{"k":"a","r":8,"b":6,"t":31.8,"p":18,"lo":-8},{"k":"a","r":8,"b":6,"t":32.1,"p":28,"lo":-9},{"k":"a","r":8,"b":6,"t":32.4,"p":24,"lo":-10},{"k":"a","r":8,"b":6,"t":32.7,"p":32,"lo":-10},{"k":"a","r":8,"b":6,"t":33.0,"p":27,"lo":-10},{"k":"a","r":8,"b":6,"t":33.3,"p":34,"lo":-11},{"k":"a","r":8,"b":6,"t":33.6,"p":28,"lo":-11},{"k":"a","r":8,"b":6,"t":33.9,"p":35,"lo":-11},{"k":"a","r":8,"b":6,"t":34.2,"p":28,"lo":-10},{"k":"a","r":8,"b":6,"t":34.5,"p":32,"lo":-10},{"k":"a","r":8,"b":6,"t":34.8,"p":26,"lo":-10},{"k":"a","r":8,"b":6,"t":35.1,"p":30,"lo":-10},{"k":"a","r":8,"b":6,"t":35.4,"p":24,"lo":-9},{"k":"a","r":8,"b":6,"t":35.7,"p":28,"lo":-9},{"k":"a","r":8,"b":6,"t":36.0,"p":22,"lo":-8},{"k":"a","r":8,"b":6,"t":36.3,"p":24,"lo":-7},{"k":"a","r":8,"b":6,"t":36.6,"p":18,"lo":-6},{"k":"a","r":8,"b":6,"t":36.9,"p":14,"lo":-5},{"k":"a","r":8,"b":6,"t":37.2,"p":10,"lo":-4},{"k":"a","r":8,"b":6,"t":37.5,"p":5,"lo":-3},{"k":"a","r":8,"b":6,"t":37.8,"p":0,"lo":0}
],
"fed":[
{"k":"inv","r":1,"t":0,"t2":1,"p":240,"p2":240},
{"k":"base","r":1,"t":0,"t2":59.2},{"k":"base","r":2,"t":0,"t2":59.2},{"k":"base","r":3,"t":0,"t2":59.2},{"k":"base","r":4,"t":0,"t2":59.2},{"k":"base","r":5,"t":0,"t2":59.2},{"k":"base","r":6,"t":0,"t2":59.2},{"k":"base","r":7,"t":0,"t2":59.2},{"k":"base","r":8,"t":0,"t2":59.2},{"k":"base","r":9,"t":0,"t2":59.2},
{"k":"txt","r":1,"t":-1.8,"p":186,"label":"FED STATE"},
{"k":"txt","r":1,"t":16,"p":135,"label":"Liquid meal"},
{"k":"txtc","r":9,"t":15,"p":-294,"label":"10 min"},
{"k":"txt","r":9,"t":53.8,"p":-165,"label":"80 mm Hg"},
{"k":"bar","r":9,"t":10,"t2":20,"p":-222,"p2":-222},
{"k":"bar","r":9,"t":10,"t2":10,"p":-201,"p2":-243},
{"k":"bar","r":9,"t":20,"t2":20,"p":-201,"p2":-243},
{"k":"bar","r":9,"t":53,"t2":53,"p":-204,"p2":-124},
{"k":"bar","r":9,"t":53,"t2":53.6,"p":-204,"p2":-204},
{"k":"bar","r":9,"t":53,"t2":53.6,"p":-124,"p2":-124},
{"k":"s","r":1,"t":0.2,"p":42},{"k":"s","r":1,"t":2.4,"p":72},{"k":"s","r":1,"t":3.2,"p":42},{"k":"s","r":1,"t":3.8,"p":60},{"k":"s","r":1,"t":4.2,"p":24},{"k":"s","r":1,"t":5.2,"p":12},{"k":"s","r":1,"t":6.0,"p":12},{"k":"s","r":1,"t":6.6,"p":12},{"k":"s","r":1,"t":7.2,"p":12},{"k":"s","r":1,"t":14,"p":18},{"k":"s","r":1,"t":27,"p":24},{"k":"s","r":1,"t":28,"p":18},{"k":"s","r":1,"t":28.6,"p":30},{"k":"s","r":1,"t":30,"p":30},{"k":"s","r":1,"t":36.6,"p":42},{"k":"s","r":1,"t":40.6,"p":12},{"k":"s","r":1,"t":44,"p":42},{"k":"s","r":1,"t":44.6,"p":24},{"k":"s","r":1,"t":46.6,"p":30},{"k":"s","r":1,"t":47.6,"p":12},{"k":"s","r":1,"t":48.6,"p":12},
{"k":"s","r":2,"t":0.2,"p":48},{"k":"s","r":2,"t":1.0,"p":12},{"k":"s","r":2,"t":1.6,"p":12},{"k":"s","r":2,"t":3.6,"p":12},{"k":"s","r":2,"t":4.6,"p":18},{"k":"s","r":2,"t":5.6,"p":12},{"k":"s","r":2,"t":6.6,"p":12},{"k":"s","r":2,"t":7.6,"p":12},{"k":"s","r":2,"t":14,"p":18},{"k":"s","r":2,"t":22,"p":12},{"k":"s","r":2,"t":27.2,"p":18},{"k":"s","r":2,"t":29.6,"p":24},{"k":"s","r":2,"t":31.2,"p":18},{"k":"s","r":2,"t":36,"p":24},{"k":"s","r":2,"t":37,"p":48},{"k":"s","r":2,"t":37.6,"p":30},{"k":"s","r":2,"t":40,"p":12},{"k":"s","r":2,"t":44,"p":42},{"k":"s","r":2,"t":46.6,"p":24},{"k":"s","r":2,"t":54.6,"p":12},{"k":"s","r":2,"t":56.6,"p":12},
{"k":"s","r":3,"t":0.2,"p":42},{"k":"s","r":3,"t":2,"p":12},{"k":"s","r":3,"t":3,"p":-6},{"k":"s","r":3,"t":4,"p":12},{"k":"s","r":3,"t":5,"p":12},{"k":"s","r":3,"t":6,"p":-6},{"k":"s","r":3,"t":7,"p":12},{"k":"s","r":3,"t":8,"p":12},{"k":"s","r":3,"t":9,"p":6},{"k":"s","r":3,"t":14,"p":12},{"k":"s","r":3,"t":16,"p":-12},{"k":"s","r":3,"t":18.6,"p":12},{"k":"s","r":3,"t":30,"p":24},{"k":"s","r":3,"t":36.6,"p":36},{"k":"s","r":3,"t":44,"p":36},{"k":"s","r":3,"t":46.6,"p":24},{"k":"s","r":3,"t":49,"p":12},{"k":"s","r":3,"t":54.6,"p":12},{"k":"s","r":3,"t":56.6,"p":12},{"k":"s","r":3,"t":57.6,"p":12},
{"k":"s","r":4,"t":0.2,"p":36},{"k":"s","r":4,"t":3,"p":12},{"k":"s","r":4,"t":4,"p":12},{"k":"s","r":4,"t":5,"p":6},{"k":"s","r":4,"t":6.6,"p":12},{"k":"s","r":4,"t":7.6,"p":12},{"k":"s","r":4,"t":14.2,"p":12},{"k":"s","r":4,"t":23.2,"p":36},{"k":"s","r":4,"t":24.6,"p":18},{"k":"s","r":4,"t":26.2,"p":30},{"k":"s","r":4,"t":27.2,"p":24},{"k":"s","r":4,"t":31,"p":60},{"k":"s","r":4,"t":32,"p":30},{"k":"s","r":4,"t":33,"p":54},{"k":"s","r":4,"t":34,"p":24},{"k":"s","r":4,"t":36,"p":18},{"k":"s","r":4,"t":43.6,"p":36},{"k":"s","r":4,"t":44.2,"p":24},{"k":"s","r":4,"t":46.6,"p":42},
{"k":"s","r":5,"t":0.2,"p":42},{"k":"s","r":5,"t":2.6,"p":12},{"k":"s","r":5,"t":4.2,"p":6},{"k":"s","r":5,"t":5.6,"p":12},{"k":"s","r":5,"t":7.6,"p":6},{"k":"s","r":5,"t":14,"p":12},{"k":"s","r":5,"t":36.6,"p":42},{"k":"s","r":5,"t":41.2,"p":42},{"k":"s","r":5,"t":44,"p":48},{"k":"s","r":5,"t":45,"p":36},{"k":"s","r":5,"t":49,"p":36},{"k":"s","r":5,"t":50.6,"p":30},{"k":"s","r":5,"t":55.2,"p":24},{"k":"s","r":5,"t":57.2,"p":54},{"k":"s","r":5,"t":58.2,"p":30},
{"k":"s","r":6,"t":0.2,"p":42},{"k":"s","r":6,"t":2.6,"p":12},{"k":"s","r":6,"t":3.6,"p":6},{"k":"s","r":6,"t":4.6,"p":12},{"k":"s","r":6,"t":6.2,"p":12},{"k":"s","r":6,"t":7.6,"p":6},{"k":"s","r":6,"t":14,"p":12},{"k":"s","r":6,"t":39,"p":42},{"k":"s","r":6,"t":44.2,"p":54},{"k":"s","r":6,"t":56.6,"p":30},{"k":"s","r":6,"t":58.2,"p":24},
{"k":"s","r":7,"t":0.2,"p":42},{"k":"s","r":7,"t":2,"p":12},{"k":"s","r":7,"t":3,"p":-6},{"k":"s","r":7,"t":4.2,"p":12},{"k":"s","r":7,"t":5.6,"p":-6},{"k":"s","r":7,"t":7,"p":12},{"k":"s","r":7,"t":8.6,"p":12},{"k":"s","r":7,"t":10.6,"p":6},{"k":"s","r":7,"t":12.6,"p":12},{"k":"s","r":7,"t":14.6,"p":-6},{"k":"s","r":7,"t":16.6,"p":12},{"k":"s","r":7,"t":26,"p":48},{"k":"s","r":7,"t":27,"p":54},{"k":"s","r":7,"t":37,"p":48},{"k":"s","r":7,"t":42,"p":42},{"k":"s","r":7,"t":44,"p":36},{"k":"s","r":7,"t":46.6,"p":42},
{"k":"s","r":8,"t":0.2,"p":42},{"k":"s","r":8,"t":14,"p":18},{"k":"s","r":8,"t":26.2,"p":36},{"k":"s","r":8,"t":28,"p":48},{"k":"s","r":8,"t":29,"p":30},{"k":"s","r":8,"t":37.6,"p":48},{"k":"s","r":8,"t":39.6,"p":30},{"k":"s","r":8,"t":41.6,"p":48},{"k":"s","r":8,"t":44,"p":36},{"k":"s","r":8,"t":46,"p":42},{"k":"s","r":8,"t":48,"p":24},{"k":"s","r":8,"t":56,"p":24},{"k":"s","r":8,"t":58.6,"p":42},
{"k":"s","r":9,"t":0.2,"p":42},{"k":"s","r":9,"t":2.6,"p":12},{"k":"s","r":9,"t":3.6,"p":12},{"k":"s","r":9,"t":4.6,"p":12},{"k":"s","r":9,"t":9.6,"p":6},{"k":"s","r":9,"t":11.6,"p":12},{"k":"s","r":9,"t":14,"p":18},{"k":"s","r":9,"t":25.2,"p":60},{"k":"s","r":9,"t":38.2,"p":30},{"k":"s","r":9,"t":43.6,"p":42},{"k":"s","r":9,"t":45,"p":36},{"k":"s","r":9,"t":46.6,"p":30},{"k":"s","r":9,"t":53.6,"p":78},{"k":"s","r":9,"t":54.2,"p":54},
{"k":"a","r":1,"b":1,"t":22.8,"p":0},{"k":"a","r":1,"b":1,"t":23.0,"p":30},{"k":"a","r":1,"b":1,"t":23.4,"p":45},{"k":"a","r":1,"b":1,"t":23.8,"p":55},{"k":"a","r":1,"b":1,"t":24.2,"p":40},{"k":"a","r":1,"b":1,"t":24.6,"p":72},{"k":"a","r":1,"b":1,"t":25.0,"p":50},{"k":"a","r":1,"b":1,"t":25.4,"p":65},{"k":"a","r":1,"b":1,"t":25.8,"p":35},{"k":"a","r":1,"b":1,"t":26.2,"p":20},{"k":"a","r":1,"b":1,"t":26.4,"p":0},
{"k":"a","r":1,"b":2,"t":52.6,"p":0},{"k":"a","r":1,"b":2,"t":53.2,"p":10},{"k":"a","r":1,"b":2,"t":54,"p":8},{"k":"a","r":1,"b":2,"t":55,"p":12},{"k":"a","r":1,"b":2,"t":56,"p":8},{"k":"a","r":1,"b":2,"t":57,"p":12},{"k":"a","r":1,"b":2,"t":58,"p":10},{"k":"a","r":1,"b":2,"t":58.6,"p":0},
{"k":"a","r":2,"b":1,"t":23.2,"p":0},{"k":"a","r":2,"b":1,"t":23.6,"p":12},{"k":"a","r":2,"b":1,"t":24.0,"p":18},{"k":"a","r":2,"b":1,"t":24.4,"p":30},{"k":"a","r":2,"b":1,"t":24.8,"p":36},{"k":"a","r":2,"b":1,"t":25.2,"p":48},{"k":"a","r":2,"b":1,"t":25.6,"p":36},{"k":"a","r":2,"b":1,"t":26.0,"p":30},{"k":"a","r":2,"b":1,"t":26.4,"p":18},{"k":"a","r":2,"b":1,"t":26.8,"p":12},{"k":"a","r":2,"b":1,"t":27.2,"p":0},
{"k":"a","r":2,"b":2,"t":33.4,"p":0},{"k":"a","r":2,"b":2,"t":33.6,"p":30},{"k":"a","r":2,"b":2,"t":34.0,"p":48},{"k":"a","r":2,"b":2,"t":34.4,"p":60},{"k":"a","r":2,"b":2,"t":34.8,"p":45},{"k":"a","r":2,"b":2,"t":35.2,"p":30},{"k":"a","r":2,"b":2,"t":35.6,"p":0},
{"k":"a","r":3,"b":1,"t":20.6,"p":0},{"k":"a","r":3,"b":1,"t":21.2,"p":6},{"k":"a","r":3,"b":1,"t":22,"p":12},{"k":"a","r":3,"b":1,"t":22.6,"p":8},{"k":"a","r":3,"b":1,"t":23,"p":30},{"k":"a","r":3,"b":1,"t":23.6,"p":20},{"k":"a","r":3,"b":1,"t":24.2,"p":30},{"k":"a","r":3,"b":1,"t":24.8,"p":24},{"k":"a","r":3,"b":1,"t":25.2,"p":36},{"k":"a","r":3,"b":1,"t":25.6,"p":20},{"k":"a","r":3,"b":1,"t":26,"p":36},{"k":"a","r":3,"b":1,"t":26.4,"p":48},{"k":"a","r":3,"b":1,"t":26.8,"p":30},{"k":"a","r":3,"b":1,"t":27.2,"p":18},{"k":"a","r":3,"b":1,"t":27.6,"p":12},{"k":"a","r":3,"b":1,"t":28,"p":6},{"k":"a","r":3,"b":1,"t":28.6,"p":0},
{"k":"a","r":4,"b":1,"t":28.2,"p":0},{"k":"a","r":4,"b":1,"t":28.6,"p":24},{"k":"a","r":4,"b":1,"t":29.0,"p":36},{"k":"a","r":4,"b":1,"t":29.4,"p":30},{"k":"a","r":4,"b":1,"t":29.8,"p":36},{"k":"a","r":4,"b":1,"t":30.2,"p":24},{"k":"a","r":4,"b":1,"t":30.6,"p":0},
{"k":"a","r":4,"b":2,"t":37.2,"p":0},{"k":"a","r":4,"b":2,"t":37.6,"p":24},{"k":"a","r":4,"b":2,"t":38.0,"p":36},{"k":"a","r":4,"b":2,"t":38.4,"p":42},{"k":"a","r":4,"b":2,"t":38.8,"p":30},{"k":"a","r":4,"b":2,"t":39.2,"p":36},{"k":"a","r":4,"b":2,"t":39.6,"p":24},{"k":"a","r":4,"b":2,"t":40.0,"p":18},{"k":"a","r":4,"b":2,"t":40.6,"p":0},
{"k":"a","r":4,"b":3,"t":47.2,"p":0},{"k":"a","r":4,"b":3,"t":48,"p":10},{"k":"a","r":4,"b":3,"t":49,"p":12},{"k":"a","r":4,"b":3,"t":50,"p":8},{"k":"a","r":4,"b":3,"t":51,"p":10},{"k":"a","r":4,"b":3,"t":51.6,"p":0},
{"k":"a","r":4,"b":4,"t":52.6,"p":0},{"k":"a","r":4,"b":4,"t":54,"p":6},{"k":"a","r":4,"b":4,"t":56,"p":8},{"k":"a","r":4,"b":4,"t":58,"p":6},{"k":"a","r":4,"b":4,"t":59.2,"p":0},
{"k":"a","r":5,"b":1,"t":24,"p":0},{"k":"a","r":5,"b":1,"t":24.6,"p":18},{"k":"a","r":5,"b":1,"t":25.2,"p":30},{"k":"a","r":5,"b":1,"t":25.8,"p":48},{"k":"a","r":5,"b":1,"t":26.4,"p":60},{"k":"a","r":5,"b":1,"t":27.0,"p":72},{"k":"a","r":5,"b":1,"t":27.6,"p":84},{"k":"a","r":5,"b":1,"t":28.2,"p":48},{"k":"a","r":5,"b":1,"t":28.8,"p":36},{"k":"a","r":5,"b":1,"t":29.4,"p":30},{"k":"a","r":5,"b":1,"t":30.0,"p":36},{"k":"a","r":5,"b":1,"t":30.6,"p":24},{"k":"a","r":5,"b":1,"t":31.2,"p":30},{"k":"a","r":5,"b":1,"t":31.8,"p":18},{"k":"a","r":5,"b":1,"t":32.4,"p":18},{"k":"a","r":5,"b":1,"t":33.2,"p":0},
{"k":"a","r":5,"b":2,"t":34,"p":0},{"k":"a","r":5,"b":2,"t":34.4,"p":18},{"k":"a","r":5,"b":2,"t":35,"p":30},{"k":"a","r":5,"b":2,"t":35.6,"p":24},{"k":"a","r":5,"b":2,"t":36.2,"p":30},{"k":"a","r":5,"b":2,"t":36.6,"p":0},
{"k":"a","r":5,"b":3,"t":38,"p":0},{"k":"a","r":5,"b":3,"t":38.4,"p":30},{"k":"a","r":5,"b":3,"t":39,"p":36},{"k":"a","r":5,"b":3,"t":39.6,"p":30},{"k":"a","r":5,"b":3,"t":40.2,"p":42},{"k":"a","r":5,"b":3,"t":40.8,"p":36},{"k":"a","r":5,"b":3,"t":41.4,"p":30},{"k":"a","r":5,"b":3,"t":42,"p":36},{"k":"a","r":5,"b":3,"t":42.6,"p":42},{"k":"a","r":5,"b":3,"t":43.2,"p":30},{"k":"a","r":5,"b":3,"t":43.8,"p":36},{"k":"a","r":5,"b":3,"t":44.4,"p":42},{"k":"a","r":5,"b":3,"t":45.2,"p":0},
{"k":"a","r":5,"b":4,"t":47.2,"p":0},{"k":"a","r":5,"b":4,"t":47.6,"p":24},{"k":"a","r":5,"b":4,"t":48.2,"p":18},{"k":"a","r":5,"b":4,"t":48.8,"p":24},{"k":"a","r":5,"b":4,"t":49.4,"p":18},{"k":"a","r":5,"b":4,"t":50.0,"p":24},{"k":"a","r":5,"b":4,"t":50.6,"p":0},
{"k":"a","r":5,"b":5,"t":52.6,"p":0},{"k":"a","r":5,"b":5,"t":53.2,"p":18},{"k":"a","r":5,"b":5,"t":54,"p":12},{"k":"a","r":5,"b":5,"t":55,"p":18},{"k":"a","r":5,"b":5,"t":56,"p":12},{"k":"a","r":5,"b":5,"t":56.6,"p":0},
{"k":"a","r":6,"b":1,"t":23.2,"p":0},{"k":"a","r":6,"b":1,"t":23.6,"p":18},{"k":"a","r":6,"b":1,"t":24.2,"p":24},{"k":"a","r":6,"b":1,"t":24.8,"p":30},{"k":"a","r":6,"b":1,"t":25.4,"p":24},{"k":"a","r":6,"b":1,"t":26.0,"p":36},{"k":"a","r":6,"b":1,"t":26.6,"p":24},{"k":"a","r":6,"b":1,"t":27.2,"p":30},{"k":"a","r":6,"b":1,"t":27.8,"p":24},{"k":"a","r":6,"b":1,"t":28.4,"p":18},{"k":"a","r":6,"b":1,"t":29.0,"p":30},{"k":"a","r":6,"b":1,"t":29.6,"p":36},{"k":"a","r":6,"b":1,"t":30.2,"p":24},{"k":"a","r":6,"b":1,"t":30.8,"p":24},{"k":"a","r":6,"b":1,"t":31.4,"p":18},{"k":"a","r":6,"b":1,"t":32.0,"p":24},{"k":"a","r":6,"b":1,"t":32.6,"p":18},{"k":"a","r":6,"b":1,"t":33.2,"p":0},
{"k":"a","r":6,"b":2,"t":33.2,"p":0},{"k":"a","r":6,"b":2,"t":33.6,"p":12},{"k":"a","r":6,"b":2,"t":34.4,"p":18},{"k":"a","r":6,"b":2,"t":35.2,"p":12},{"k":"a","r":6,"b":2,"t":36,"p":18},{"k":"a","r":6,"b":2,"t":36.8,"p":12},{"k":"a","r":6,"b":2,"t":37.2,"p":0},
{"k":"a","r":6,"b":3,"t":38,"p":0},{"k":"a","r":6,"b":3,"t":38.4,"p":24},{"k":"a","r":6,"b":3,"t":39.6,"p":30},{"k":"a","r":6,"b":3,"t":40.4,"p":24},{"k":"a","r":6,"b":3,"t":41.2,"p":0},
{"k":"a","r":6,"b":4,"t":45.2,"p":0},{"k":"a","r":6,"b":4,"t":45.6,"p":18},{"k":"a","r":6,"b":4,"t":46.4,"p":24},{"k":"a","r":6,"b":4,"t":47.2,"p":18},{"k":"a","r":6,"b":4,"t":48,"p":24},{"k":"a","r":6,"b":4,"t":48.8,"p":18},{"k":"a","r":6,"b":4,"t":49.6,"p":24},{"k":"a","r":6,"b":4,"t":50.6,"p":0},
{"k":"a","r":6,"b":5,"t":52.6,"p":0},{"k":"a","r":6,"b":5,"t":53,"p":18},{"k":"a","r":6,"b":5,"t":54,"p":12},{"k":"a","r":6,"b":5,"t":55,"p":18},{"k":"a","r":6,"b":5,"t":56,"p":0},
{"k":"a","r":7,"b":1,"t":20.6,"p":0},{"k":"a","r":7,"b":1,"t":21.4,"p":12},{"k":"a","r":7,"b":1,"t":22.4,"p":12},{"k":"a","r":7,"b":1,"t":23.2,"p":0},
{"k":"a","r":7,"b":2,"t":24.6,"p":0},{"k":"a","r":7,"b":2,"t":25.0,"p":24},{"k":"a","r":7,"b":2,"t":25.6,"p":36},{"k":"a","r":7,"b":2,"t":26.2,"p":30},{"k":"a","r":7,"b":2,"t":26.8,"p":42},{"k":"a","r":7,"b":2,"t":27.4,"p":36},{"k":"a","r":7,"b":2,"t":28.0,"p":24},{"k":"a","r":7,"b":2,"t":28.6,"p":30},{"k":"a","r":7,"b":2,"t":29.2,"p":24},{"k":"a","r":7,"b":2,"t":29.8,"p":30},{"k":"a","r":7,"b":2,"t":30.4,"p":24},{"k":"a","r":7,"b":2,"t":31.0,"p":30},{"k":"a","r":7,"b":2,"t":31.6,"p":24},{"k":"a","r":7,"b":2,"t":32.4,"p":18},{"k":"a","r":7,"b":2,"t":33.2,"p":18},{"k":"a","r":7,"b":2,"t":34,"p":24},{"k":"a","r":7,"b":2,"t":34.8,"p":12},{"k":"a","r":7,"b":2,"t":35.6,"p":18},{"k":"a","r":7,"b":2,"t":36.6,"p":0},
{"k":"a","r":7,"b":3,"t":38.6,"p":0},{"k":"a","r":7,"b":3,"t":39,"p":24},{"k":"a","r":7,"b":3,"t":39.6,"p":30},{"k":"a","r":7,"b":3,"t":40.2,"p":24},{"k":"a","r":7,"b":3,"t":40.8,"p":36},{"k":"a","r":7,"b":3,"t":41.4,"p":30},{"k":"a","r":7,"b":3,"t":42.6,"p":30},{"k":"a","r":7,"b":3,"t":43.2,"p":24},{"k":"a","r":7,"b":3,"t":44.4,"p":30},{"k":"a","r":7,"b":3,"t":45,"p":24},{"k":"a","r":7,"b":3,"t":45.6,"p":30},{"k":"a","r":7,"b":3,"t":46.2,"p":24},{"k":"a","r":7,"b":3,"t":47.0,"p":30},{"k":"a","r":7,"b":3,"t":48,"p":0},
{"k":"a","r":7,"b":4,"t":49.2,"p":0},{"k":"a","r":7,"b":4,"t":50,"p":12},{"k":"a","r":7,"b":4,"t":51,"p":18},{"k":"a","r":7,"b":4,"t":52,"p":12},{"k":"a","r":7,"b":4,"t":53,"p":18},{"k":"a","r":7,"b":4,"t":54,"p":12},{"k":"a","r":7,"b":4,"t":55,"p":18},{"k":"a","r":7,"b":4,"t":56,"p":12},{"k":"a","r":7,"b":4,"t":57,"p":18},{"k":"a","r":7,"b":4,"t":58,"p":12},{"k":"a","r":7,"b":4,"t":59.2,"p":0},
{"k":"a","r":8,"b":1,"t":2,"p":0},{"k":"a","r":8,"b":1,"t":2.6,"p":10},{"k":"a","r":8,"b":1,"t":3.4,"p":6},{"k":"a","r":8,"b":1,"t":4.2,"p":10},{"k":"a","r":8,"b":1,"t":5,"p":6},{"k":"a","r":8,"b":1,"t":5.8,"p":10},{"k":"a","r":8,"b":1,"t":6.6,"p":6},{"k":"a","r":8,"b":1,"t":7.4,"p":10},{"k":"a","r":8,"b":1,"t":8.2,"p":6},{"k":"a","r":8,"b":1,"t":9,"p":10},{"k":"a","r":8,"b":1,"t":9.8,"p":6},{"k":"a","r":8,"b":1,"t":10.6,"p":10},{"k":"a","r":8,"b":1,"t":11.4,"p":6},{"k":"a","r":8,"b":1,"t":12.2,"p":10},{"k":"a","r":8,"b":1,"t":13,"p":6},{"k":"a","r":8,"b":1,"t":13.8,"p":10},{"k":"a","r":8,"b":1,"t":14.6,"p":6},{"k":"a","r":8,"b":1,"t":15.6,"p":8},{"k":"a","r":8,"b":1,"t":16.6,"p":0},
{"k":"a","r":8,"b":2,"t":25.2,"p":0},{"k":"a","r":8,"b":2,"t":25.6,"p":18},{"k":"a","r":8,"b":2,"t":26.6,"p":24},{"k":"a","r":8,"b":2,"t":27.4,"p":30},{"k":"a","r":8,"b":2,"t":28.4,"p":24},{"k":"a","r":8,"b":2,"t":29.4,"p":30},{"k":"a","r":8,"b":2,"t":30.2,"p":24},{"k":"a","r":8,"b":2,"t":31,"p":24},{"k":"a","r":8,"b":2,"t":32,"p":24},{"k":"a","r":8,"b":2,"t":33.2,"p":0},
{"k":"a","r":8,"b":3,"t":33.2,"p":0},{"k":"a","r":8,"b":3,"t":33.6,"p":18},{"k":"a","r":8,"b":3,"t":34.6,"p":24},{"k":"a","r":8,"b":3,"t":35.6,"p":18},{"k":"a","r":8,"b":3,"t":36.6,"p":24},{"k":"a","r":8,"b":3,"t":38.6,"p":24},{"k":"a","r":8,"b":3,"t":40.6,"p":30},{"k":"a","r":8,"b":3,"t":42.6,"p":24},{"k":"a","r":8,"b":3,"t":44.6,"p":30},{"k":"a","r":8,"b":3,"t":46.6,"p":24},{"k":"a","r":8,"b":3,"t":48.6,"p":18},{"k":"a","r":8,"b":3,"t":49.6,"p":0},
{"k":"a","r":8,"b":4,"t":54.6,"p":0},{"k":"a","r":8,"b":4,"t":55,"p":12},{"k":"a","r":8,"b":4,"t":56.6,"p":24},{"k":"a","r":8,"b":4,"t":57.6,"p":30},{"k":"a","r":8,"b":4,"t":58.4,"p":36},{"k":"a","r":8,"b":4,"t":59.2,"p":0},
{"k":"a","r":9,"b":1,"t":26,"p":0},{"k":"a","r":9,"b":1,"t":26.4,"p":24},{"k":"a","r":9,"b":1,"t":27.2,"p":36},{"k":"a","r":9,"b":1,"t":28,"p":30},{"k":"a","r":9,"b":1,"t":28.8,"p":24},{"k":"a","r":9,"b":1,"t":29.6,"p":36},{"k":"a","r":9,"b":1,"t":30.4,"p":24},{"k":"a","r":9,"b":1,"t":31.2,"p":30},{"k":"a","r":9,"b":1,"t":32,"p":24},{"k":"a","r":9,"b":1,"t":33,"p":18},{"k":"a","r":9,"b":1,"t":34,"p":24},{"k":"a","r":9,"b":1,"t":35,"p":18},{"k":"a","r":9,"b":1,"t":36,"p":24},{"k":"a","r":9,"b":1,"t":37,"p":18},{"k":"a","r":9,"b":1,"t":38,"p":0},
{"k":"a","r":9,"b":2,"t":40.6,"p":0},{"k":"a","r":9,"b":2,"t":41,"p":24},{"k":"a","r":9,"b":2,"t":42,"p":30},{"k":"a","r":9,"b":2,"t":43,"p":24},{"k":"a","r":9,"b":2,"t":44,"p":36},{"k":"a","r":9,"b":2,"t":45,"p":30},{"k":"a","r":9,"b":2,"t":46,"p":24},{"k":"a","r":9,"b":2,"t":47.2,"p":0},
{"k":"a","r":9,"b":3,"t":47.2,"p":0},{"k":"a","r":9,"b":3,"t":47.6,"p":18},{"k":"a","r":9,"b":3,"t":48.6,"p":18},{"k":"a","r":9,"b":3,"t":49.6,"p":12},{"k":"a","r":9,"b":3,"t":50.6,"p":18},{"k":"a","r":9,"b":3,"t":51.6,"p":12},{"k":"a","r":9,"b":3,"t":53.2,"p":0},
{"k":"a","r":9,"b":4,"t":53.2,"p":0},{"k":"a","r":9,"b":4,"t":53.4,"p":40},{"k":"a","r":9,"b":4,"t":54,"p":60},{"k":"a","r":9,"b":4,"t":54.6,"p":48},{"k":"a","r":9,"b":4,"t":55.2,"p":30},{"k":"a","r":9,"b":4,"t":56,"p":24},{"k":"a","r":9,"b":4,"t":57,"p":24},{"k":"a","r":9,"b":4,"t":58,"p":24},{"k":"a","r":9,"b":4,"t":59.2,"p":0}
]
},
"vconcat":[
{
"data":{"name":"fast"},
"bounds":"flush",
"spacing":0,
"facet":{"row":{"field":"r","type":"ordinal","title":null,"header":{"labels":false,"title":null,"labelPadding":0,"titlePadding":0}}},
"spec":{
"width":352,"height":32,
"layer":[
{"transform":[{"filter":"datum.k==='inv'"}],"mark":{"type":"rule","color":"#ffffff","opacity":0,"strokeWidth":1},
 "encoding":{"x":{"field":"t","type":"quantitative","scale":{"domain":[-0.349,40.58],"nice":false,"zero":false},"axis":null},"x2":{"field":"t2"},"y":{"field":"p","type":"quantitative","scale":{"domain":[0,112],"nice":false,"zero":false},"axis":null},"y2":{"field":"p2"}}},
{"transform":[{"filter":"datum.k==='base'"}],"mark":{"type":"rule","color":"#2f80bf","strokeWidth":1.3},
 "encoding":{"x":{"field":"t","type":"quantitative","scale":{"domain":[-0.349,40.58],"nice":false,"zero":false},"axis":null},"x2":{"field":"t2"},"y":{"datum":0,"type":"quantitative","scale":{"domain":[0,112],"nice":false,"zero":false},"axis":null}}},
{"transform":[{"filter":"datum.k==='a'"}],"mark":{"type":"area","color":"#2f80bf","opacity":0.9},
 "encoding":{"x":{"field":"t","type":"quantitative","scale":{"domain":[-0.349,40.58],"nice":false,"zero":false},"axis":null},"y":{"field":"p","type":"quantitative","scale":{"domain":[0,112],"nice":false,"zero":false},"axis":null},"y2":{"field":"lo"},"detail":{"field":"b","type":"nominal"}}},
{"transform":[{"filter":"datum.k==='s'"}],"mark":{"type":"rule","color":"#2f80bf","strokeWidth":1},
 "encoding":{"x":{"field":"t","type":"quantitative","scale":{"domain":[-0.349,40.58],"nice":false,"zero":false},"axis":null},"y":{"field":"p","type":"quantitative","scale":{"domain":[0,112],"nice":false,"zero":false},"axis":null},"y2":{"datum":0}}},
{"transform":[{"filter":"datum.k==='dash'"}],"mark":{"type":"rule","color":"#111111","strokeWidth":2.2,"strokeDash":[7,5]},
 "encoding":{"x":{"field":"t","type":"quantitative","scale":{"domain":[-0.349,40.58],"nice":false,"zero":false},"axis":null},"y":{"field":"p","type":"quantitative","scale":{"domain":[0,112],"nice":false,"zero":false},"axis":null},"y2":{"field":"p2"}}},
{"transform":[{"filter":"datum.k==='bar'"}],"mark":{"type":"rule","color":"#111111","strokeWidth":1.3},
 "encoding":{"x":{"field":"t","type":"quantitative","scale":{"domain":[-0.349,40.58],"nice":false,"zero":false},"axis":null},"x2":{"field":"t2"},"y":{"field":"p","type":"quantitative","scale":{"domain":[0,112],"nice":false,"zero":false},"axis":null},"y2":{"field":"p2"}}},
{"transform":[{"filter":"datum.k==='txt'"}],"mark":{"type":"text","align":"left","baseline":"middle","fontSize":12,"font":"Liberation Sans","color":"#1a1a1a"},
 "encoding":{"x":{"field":"t","type":"quantitative","scale":{"domain":[-0.349,40.58],"nice":false,"zero":false},"axis":null},"y":{"field":"p","type":"quantitative","scale":{"domain":[0,112],"nice":false,"zero":false},"axis":null},"text":{"field":"label"}}},
{"transform":[{"filter":"datum.k==='txtc'"}],"mark":{"type":"text","align":"center","baseline":"middle","fontSize":12,"font":"Liberation Sans","color":"#1a1a1a"},
 "encoding":{"x":{"field":"t","type":"quantitative","scale":{"domain":[-0.349,40.58],"nice":false,"zero":false},"axis":null},"y":{"field":"p","type":"quantitative","scale":{"domain":[0,112],"nice":false,"zero":false},"axis":null},"text":{"field":"label"}}}
]
}
},
{
"data":{"name":"fed"},
"bounds":"flush",
"spacing":0,
"facet":{"row":{"field":"r","type":"ordinal","title":null,"header":{"labels":false,"title":null,"labelPadding":0,"titlePadding":0}}},
"spec":{
"width":352,"height":23,
"layer":[
{"transform":[{"filter":"datum.k==='inv'"}],"mark":{"type":"rule","color":"#ffffff","opacity":0,"strokeWidth":1},
 "encoding":{"x":{"field":"t","type":"quantitative","scale":{"domain":[-3.4,67],"nice":false,"zero":false},"axis":null},"x2":{"field":"t2"},"y":{"field":"p","type":"quantitative","scale":{"domain":[0,138],"nice":false,"zero":false},"axis":null},"y2":{"field":"p2"}}},
{"transform":[{"filter":"datum.k==='base'"}],"mark":{"type":"rule","color":"#2b6c9e","strokeWidth":2.2},
 "encoding":{"x":{"field":"t","type":"quantitative","scale":{"domain":[-3.4,67],"nice":false,"zero":false},"axis":null},"x2":{"field":"t2"},"y":{"datum":0,"type":"quantitative","scale":{"domain":[0,138],"nice":false,"zero":false},"axis":null}}},
{"transform":[{"filter":"datum.k==='a'"}],"mark":{"type":"area","color":"#2b6c9e","interpolate":"step-after"},
 "encoding":{"x":{"field":"t","type":"quantitative","scale":{"domain":[-3.4,67],"nice":false,"zero":false},"axis":null},"y":{"field":"p","type":"quantitative","scale":{"domain":[0,138],"nice":false,"zero":false},"axis":null},"y2":{"datum":0},"detail":{"field":"b","type":"nominal"}}},
{"transform":[{"filter":"datum.k==='s'"}],"mark":{"type":"rule","color":"#2b6c9e","strokeWidth":1.6},
 "encoding":{"x":{"field":"t","type":"quantitative","scale":{"domain":[-3.4,67],"nice":false,"zero":false},"axis":null},"y":{"field":"p","type":"quantitative","scale":{"domain":[0,138],"nice":false,"zero":false},"axis":null},"y2":{"datum":0}}},
{"transform":[{"filter":"datum.k==='bar'"}],"mark":{"type":"rule","color":"#111111","strokeWidth":1.3},
 "encoding":{"x":{"field":"t","type":"quantitative","scale":{"domain":[-3.4,67],"nice":false,"zero":false},"axis":null},"x2":{"field":"t2"},"y":{"field":"p","type":"quantitative","scale":{"domain":[0,138],"nice":false,"zero":false},"axis":null},"y2":{"field":"p2"}}},
{"transform":[{"filter":"datum.k==='txt'"}],"mark":{"type":"text","align":"left","baseline":"middle","fontSize":12,"font":"Liberation Sans","color":"#1a1a1a"},
 "encoding":{"x":{"field":"t","type":"quantitative","scale":{"domain":[-3.4,67],"nice":false,"zero":false},"axis":null},"y":{"field":"p","type":"quantitative","scale":{"domain":[0,138],"nice":false,"zero":false},"axis":null},"text":{"field":"label"}}},
{"transform":[{"filter":"datum.k==='txtc'"}],"mark":{"type":"text","align":"center","baseline":"middle","fontSize":12,"font":"Liberation Sans","color":"#1a1a1a"},
 "encoding":{"x":{"field":"t","type":"quantitative","scale":{"domain":[-3.4,67],"nice":false,"zero":false},"axis":null},"y":{"field":"p","type":"quantitative","scale":{"domain":[0,138],"nice":false,"zero":false},"axis":null},"text":{"field":"label"}}}
]
}
}
]
}
